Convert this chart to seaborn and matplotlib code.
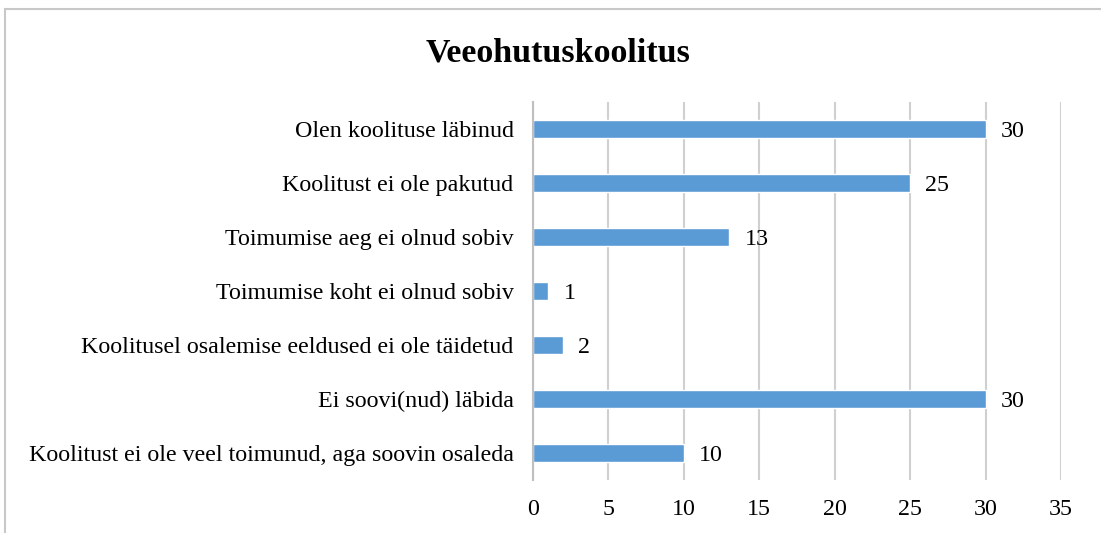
import matplotlib
matplotlib.use("Agg")
import matplotlib.pyplot as plt
import seaborn as sns
import pandas as pd
from matplotlib.patches import Rectangle

categories = [
    "Olen koolituse läbinud",
    "Koolitust ei ole pakutud",
    "Toimumise aeg ei olnud sobiv",
    "Toimumise koht ei olnud sobiv",
    "Koolitusel osalemise eeldused ei ole täidetud",
    "Ei soovi(nud) läbida",
    "Koolitust ei ole veel toimunud, aga soovin osaleda",
]
values = [30, 25, 13, 1, 2, 30, 10]
title = "Veeohutuskoolitus"
xticks = [0, 5, 10, 15, 20, 25, 30, 35]

sns.set_theme(style="white")
plt.rcParams['font.family'] = ['Liberation Serif', 'DejaVu Serif']

df = pd.DataFrame({"cat": categories, "val": values})

W, H = 1101, 533
fig = plt.figure(figsize=(W / 100, H / 100), dpi=100)
ax = fig.add_axes([533 / W, 1 - 480 / H, (1061 - 533) / W, (480 - 102) / H])

sns.barplot(data=df, y="cat", x="val", orient="h", color="#5B9BD5",
            width=0.35, ax=ax, saturation=1)

ax.set_xlim(0, 35)
ax.set_ylim(6.5, -0.5)
ax.set_xticks(xticks)
ax.set_xticklabels([str(t) for t in xticks])
ax.set_xlabel("")
ax.set_ylabel("")
ax.tick_params(axis='x', length=0, labelsize=17.3, pad=14, colors='#000000')
ax.tick_params(axis='y', length=0, labelsize=17.3, pad=14, colors='#000000')
ax.grid(axis='x', color='#D0D0D0', linewidth=1.5)
ax.set_axisbelow(True)
for name, s in ax.spines.items():
    if name == 'left':
        s.set_color('#BFBFBF')
        s.set_linewidth(1.5)
    else:
        s.set_visible(False)

for i, v in enumerate(values):
    ax.annotate(str(v), xy=(v, i), xytext=(11, 0), textcoords='offset points',
                va='center_baseline', ha='left', fontsize=17.3, color='#000000')

fig.text(0.507, 1 - 53 / H, title, ha='center', va='center',
         fontsize=24.5, fontweight='bold', color='#000000')

fig.patches.append(Rectangle((4.5 / W, -0.05), 1.1, 1 - 9.5 / H + 0.05,
                             transform=fig.transFigure, fill=False,
                             edgecolor='#C8C8C8', linewidth=1.5))

fig.savefig("out.png", dpi=100)
